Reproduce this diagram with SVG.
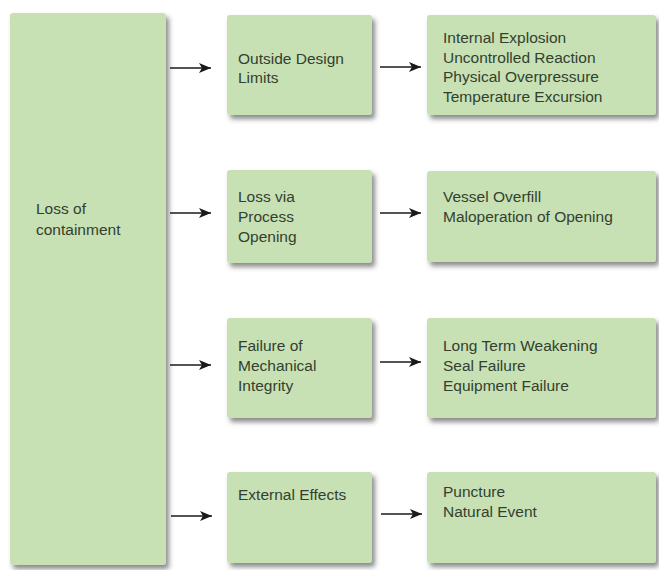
<svg xmlns="http://www.w3.org/2000/svg" width="659" height="570" viewBox="0 0 659 570">
<defs>
<filter id="sh" x="-10%" y="-10%" width="130%" height="130%">
<feDropShadow dx="3" dy="4" stdDeviation="2.5" flood-color="#3c3c3c" flood-opacity="0.6"/>
</filter>
<marker id="ah" viewBox="0 0 12 10" refX="12" refY="5" markerWidth="12" markerHeight="10" markerUnits="userSpaceOnUse" orient="auto">
<path d="M0,0 L12,5 L0,10 L3,5 Z" fill="#1a1a1a"/>
</marker>
<style>
.box{fill:#c7e1b5;filter:url(#sh)}
.t{font-family:"Liberation Sans",Arial,sans-serif;font-size:15.5px;fill:#34402e}
.c line{stroke:#1a1a1a;stroke-width:1.6;marker-end:url(#ah)}
</style>
</defs>
<rect width="659" height="570" fill="#ffffff"/>
<g id="loss-of-containment">
<rect class="box" x="10" y="13" width="156" height="552" rx="3"/>
<text class="t" x="36" y="214">Loss of</text>
<text class="t" x="36" y="235">containment</text>
</g>
<g id="outside-design-limits">
<rect class="box" x="227" y="15" width="145" height="100" rx="3"/>
<text class="t" x="238" y="64">Outside Design</text>
<text class="t" x="238" y="83">Limits</text>
</g>
<g id="loss-via-process-opening">
<rect class="box" x="227" y="170" width="145" height="93" rx="3"/>
<text class="t" x="238" y="202">Loss via</text>
<text class="t" x="238" y="222">Process</text>
<text class="t" x="238" y="242">Opening</text>
</g>
<g id="failure-mechanical-integrity">
<rect class="box" x="227" y="318" width="145" height="100" rx="3"/>
<text class="t" x="238" y="351">Failure of</text>
<text class="t" x="238" y="371">Mechanical</text>
<text class="t" x="238" y="391">Integrity</text>
</g>
<g id="external-effects">
<rect class="box" x="227" y="472" width="145" height="91" rx="3"/>
<text class="t" x="238" y="500">External Effects</text>
</g>
<g id="design-limit-causes">
<rect class="box" x="427" y="15" width="229" height="100" rx="3"/>
<text class="t" x="443" y="43">Internal Explosion</text>
<text class="t" x="443" y="63">Uncontrolled Reaction</text>
<text class="t" x="443" y="82">Physical Overpressure</text>
<text class="t" x="443" y="102">Temperature Excursion</text>
</g>
<g id="opening-causes">
<rect class="box" x="427" y="171" width="229" height="91" rx="3"/>
<text class="t" x="443" y="202">Vessel Overfill</text>
<text class="t" x="443" y="222">Maloperation of Opening</text>
</g>
<g id="integrity-causes">
<rect class="box" x="427" y="318" width="229" height="100" rx="3"/>
<text class="t" x="443" y="351">Long Term Weakening</text>
<text class="t" x="443" y="371">Seal Failure</text>
<text class="t" x="443" y="391">Equipment Failure</text>
</g>
<g id="external-causes">
<rect class="box" x="427" y="472" width="229" height="91" rx="3"/>
<text class="t" x="443" y="497">Puncture</text>
<text class="t" x="443" y="517">Natural Event</text>
</g>
<g id="connectors" class="c">
<line x1="170" y1="68" x2="211" y2="68"/>
<line x1="170" y1="213" x2="211" y2="213"/>
<line x1="170" y1="365" x2="211" y2="365"/>
<line x1="171" y1="516" x2="212" y2="516"/>
<line x1="380" y1="67" x2="421" y2="67"/>
<line x1="380" y1="213" x2="421" y2="213"/>
<line x1="380" y1="362" x2="421" y2="362"/>
<line x1="381" y1="514" x2="422" y2="514"/>
</g>
</svg>
